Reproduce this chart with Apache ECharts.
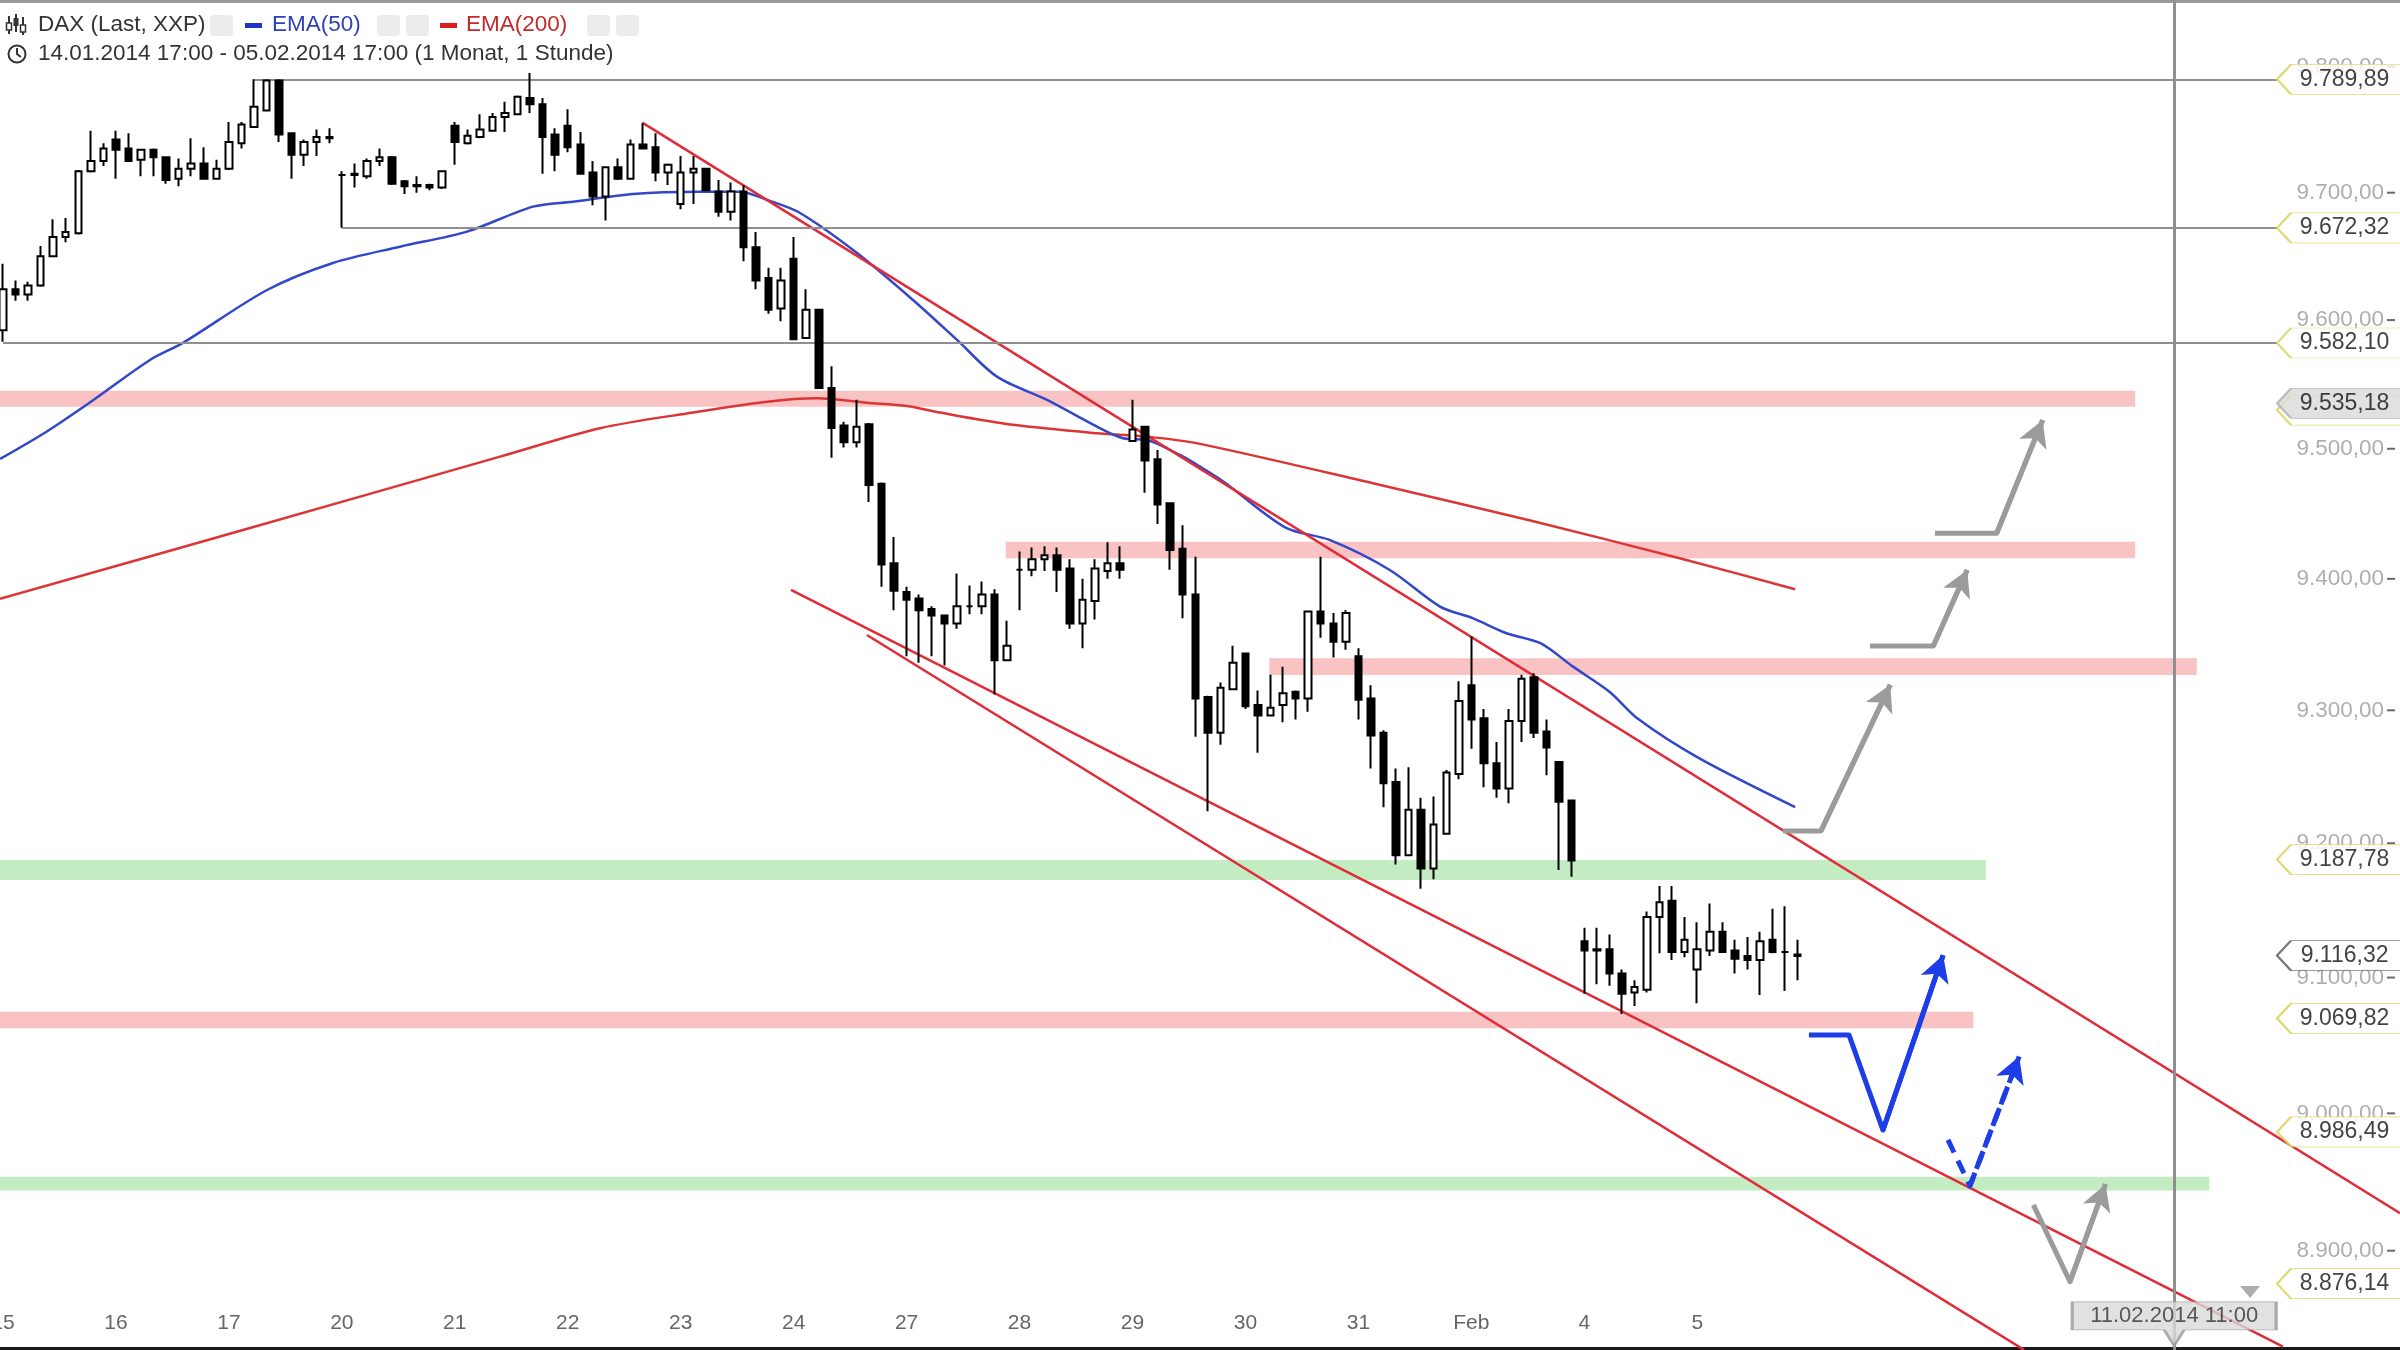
<!DOCTYPE html>
<html>
<head>
<meta charset="utf-8">
<title>DAX (Last, XXP) 1 Stunde</title>
<script src="https://cdn.jsdelivr.net/npm/echarts@6.0.0/dist/echarts.min.js"></script>
<style>
html, body { margin: 0; padding: 0; background: #fff; }
#chart { width: 2400px; height: 1350px; }
</style>
</head>
<body>
<div id="chart"></div>
<script>
// Handelstage und Stunden (Xetra 9:00 - 17:00), rechts leerer Zukunftsbereich
var dayLabels = ['15', '16', '17', '20', '21', '22', '23', '24', '27', '28', '29', '30', '31', 'Feb', '4', '5'];
var hours = [9, 10, 11, 12, 13, 14, 15, 16, 17];
var slotCount = 192;

// Stundenkerzen
var opens = [
    9592, 9624, 9620, 9627, 9650, 9665, 9668, 9717, 9725, 9742, 9735, 9726, 9734, 9728, 9711, 9719, 9723, 9711,
    9719, 9739, 9752, 9765, 9789, 9747, 9730, 9740, 9744, 9714, 9714, 9713, 9725, 9728, 9709, 9705, 9706, 9704,
    9753, 9739, 9744, 9749, 9760, 9762, 9775, 9770, 9746, 9753, 9738, 9716, 9697, 9720, 9711, 9738, 9736, 9716,
    9691, 9716, 9719, 9701, 9685, 9701, 9657, 9633, 9609, 9648, 9586, 9608, 9547, 9518, 9505, 9519, 9473, 9412,
    9390, 9385, 9377, 9372, 9366, 9379, 9379, 9388, 9338, 9407, 9407, 9415, 9418, 9408, 9366, 9383, 9406, 9412,
    9506, 9517, 9492, 9458, 9423, 9388, 9310, 9283, 9316, 9343, 9304, 9296, 9304, 9314, 9309, 9375, 9366, 9352,
    9341, 9309, 9283, 9246, 9191, 9225, 9181, 9207, 9252, 9319, 9294, 9260, 9241, 9292, 9325, 9284, 9261, 9232,
    9127, 9120, 9121, 9103, 9089, 9091, 9145, 9157, 9119, 9106, 9120, 9134, 9120, 9116, 9113, 9128, 9119, 9117
];
var closes = [
    9624, 9620, 9627, 9650, 9665, 9669, 9717, 9725, 9735, 9734, 9725, 9734, 9728, 9710, 9719, 9723, 9711, 9719,
    9740, 9754, 9768, 9789, 9746, 9730, 9740, 9744, 9743, 9714, 9715, 9725, 9728, 9707, 9705, 9706, 9704, 9717,
    9740, 9745, 9750, 9760, 9763, 9776, 9770, 9744, 9730, 9736, 9715, 9697, 9720, 9711, 9738, 9735, 9716, 9722,
    9716, 9719, 9702, 9685, 9701, 9657, 9631, 9608, 9631, 9585, 9608, 9547, 9516, 9505, 9517, 9472, 9411, 9391,
    9384, 9376, 9372, 9366, 9379, 9379, 9388, 9338, 9349, 9407, 9415, 9418, 9407, 9366, 9384, 9408, 9412, 9407,
    9515, 9491, 9457, 9422, 9388, 9309, 9283, 9317, 9336, 9303, 9296, 9302, 9313, 9309, 9375, 9366, 9352, 9374,
    9308, 9281, 9245, 9191, 9225, 9181, 9214, 9253, 9307, 9293, 9260, 9241, 9292, 9324, 9283, 9272, 9231, 9187,
    9120, 9121, 9103, 9088, 9093, 9145, 9156, 9119, 9128, 9121, 9134, 9119, 9114, 9113, 9127, 9119, 9119, 9116
];
var lows = [
    9583, 9615, 9615, 9626, 9650, 9661, 9667, 9716, 9721, 9711, 9725, 9713, 9713, 9707, 9705, 9713, 9711, 9711,
    9718, 9735, 9752, 9765, 9740, 9711, 9721, 9729, 9739, 9672.3, 9704, 9711, 9721, 9706, 9699, 9700, 9702, 9703,
    9722, 9738, 9743, 9749, 9748, 9762, 9763, 9715, 9717, 9732, 9715, 9690, 9678, 9710, 9711, 9735, 9709, 9706,
    9687, 9691, 9702, 9681, 9678, 9646, 9624, 9605, 9599, 9585, 9586, 9547, 9493, 9501, 9501, 9459, 9394, 9376,
    9341, 9336, 9341, 9334, 9362, 9373, 9373, 9312, 9338, 9376, 9402, 9406, 9390, 9362, 9347, 9369, 9400, 9400,
    9506, 9466, 9442, 9407, 9370, 9280, 9224, 9274, 9316, 9301, 9268, 9296, 9291, 9293, 9299, 9355, 9340, 9346,
    9293, 9256, 9227, 9184, 9191, 9166, 9173, 9207, 9248, 9271, 9242, 9234, 9230, 9276, 9279, 9251, 9180, 9175,
    9088, 9095, 9094, 9073, 9079, 9089, 9118, 9113, 9115, 9081, 9116, 9119, 9103, 9106, 9087, 9118, 9090, 9098
];
var highs = [
    9644, 9631, 9630, 9658, 9679, 9680, 9718, 9749, 9739, 9749, 9747, 9734, 9735, 9728, 9727, 9743, 9736, 9726,
    9756, 9756, 9790, 9790, 9790, 9747, 9742, 9750, 9751, 9717, 9723, 9727, 9735, 9729, 9710, 9713, 9707, 9717,
    9756, 9750, 9762, 9763, 9772, 9777, 9795, 9775, 9751, 9766, 9748, 9725, 9720, 9727, 9742, 9755, 9747, 9723,
    9729, 9729, 9719, 9710, 9708, 9706, 9669, 9641, 9641, 9665, 9624, 9608, 9564, 9521, 9538, 9520, 9474, 9432,
    9394, 9388, 9379, 9372, 9404, 9395, 9398, 9392, 9368, 9421, 9424, 9425, 9424, 9415, 9400, 9415, 9428, 9425,
    9538, 9517, 9499, 9458, 9441, 9417, 9311, 9321, 9349, 9343, 9315, 9327, 9333, 9315, 9375, 9417, 9374, 9376,
    9347, 9319, 9285, 9256, 9257, 9234, 9235, 9255, 9322, 9356, 9301, 9276, 9301, 9327, 9328, 9293, 9261, 9232,
    9137, 9137, 9132, 9106, 9098, 9149, 9168, 9168, 9145, 9141, 9155, 9141, 9128, 9130, 9134, 9151, 9153, 9128
];

// gleitende Durchschnitte, Stützpunkte (Kerzenindex, Kurs)
var ema50Idx = [-0.24, 3.43, 7.09, 11.71, 14.34, 21.04, 26.29, 31.63, 36.97, 42.23, 45.42, 50.2, 55.54, 58.73,
    60.88, 63.51, 68.05, 72.51, 76.02, 79.2, 83.19, 87.17, 89.24, 91.16, 93.78, 95.38, 97.29, 102.2, 105.7,
    110.5, 114.5, 117.1, 119.8, 122.5, 125.1, 128.0, 130.3, 135.1, 142.8];
var ema50 = [9492.1, 9513.0, 9537.0, 9568.9, 9582.2, 9623.5, 9644.7, 9657.5, 9669.3, 9689.0, 9692.9, 9699.0,
    9700.8, 9700.8, 9694.3, 9684.0, 9652.5, 9615.7, 9584.5, 9555.9, 9537.8, 9517.1, 9508.1, 9506.8, 9495.2,
    9486.2, 9474.4, 9439.2, 9429.8, 9406.8, 9378.8, 9370.0, 9358.5, 9350.9, 9333.1, 9314.1, 9293.4, 9264.1, 9227.1];
var ema200Idx = [-0.24, 19.68, 39.6, 47.57, 55.0, 60.88, 64.86, 68.84, 72.03, 74.66, 80.48, 87.17, 91.16,
    95.38, 109.5, 121.7, 133.9, 142.8];
var ema200 = [9384.7, 9439.0, 9493.9, 9515.9, 9528.1, 9536.5, 9539.1, 9535.7, 9533.2, 9528.0, 9518.5, 9512.0,
    9509.4, 9503.8, 9472.6, 9444.7, 9415.0, 9392.0];

// horizontale Marken und Zonen
var levelValues = [9789.89, 9672.32, 9582.10, 9535.18, 9187.78, 9069.82, 8986.49, 8876.14];
var levelFrom = [20, 27, 0, -1, -1, -1, -1, -1];
var levelEnd = 181.2;
var bandTops = [9545.0, 9428.5, 9339.4, 9187.4, 9074.8, 8953.8];
var bandBottoms = [9532.6, 9415.7, 9326.8, 9172.5, 9062.6, 8943.7];
var bandFrom = [-1, 79.9, 100.9, -1, -1, -1];
var bandTo = [169.9, 169.9, 174.8, 158.0, 157.0, 175.8];
var bandKind = ['res', 'res', 'res', 'sup', 'res', 'sup'];

// Trendkanal
var trendUpper = [[50.94, 9755.4], [191.0, 8927.2]];
var trendLowerA = [[62.79, 9391.5], [181.67, 8830.9]];
var trendLowerB = [[68.84, 9357.2], [161.04, 8828.5]];

// Szenario-Pfeile
var arrowGray1 = [[141.83, 9209.2], [144.86, 9209.2], [150.38, 9319.3]];
var arrowGray2 = [[148.76, 9348.8], [153.81, 9348.8], [156.51, 9406.8]];
var arrowGray3 = [[153.94, 9434.9], [158.86, 9434.9], [162.52, 9522.2]];
var arrowGray4 = [[161.78, 8933.3], [164.7, 8877.6], [167.53, 8948.3]];
var arrowBlue = [[143.9, 9057.6], [147.09, 9057.6], [149.8, 8987.8], [154.59, 9116.5]];
var arrowBlueDash = [[154.98, 8980.6], [156.73, 8947.1], [160.65, 9041.7]];

// Preisschilder rechts und Achsbeschriftung
var tagValues = [9789.89, 9672.32, 9582.10, 9535.18, 9187.78, 9116.32, 9069.82, 8986.49, 8876.14];
var hiddenTagValues = [9530.0];
var tickValues = [9800, 9700, 9600, 9500, 9400, 9300, 9200, 9100, 9000, 8900];
var cursorIdx = 173;
var cursorPrice = 8847.2;
var cursorLabel = '11.02.2014 11:00';
var markerIdx = 179.05;
var markerPrice = 8870.2;

var yMin = 8828.4, yMax = 9853.25;

// Zahlen im deutschen Format
function de(v) {
    var s = v.toFixed(2).split('.');
    return s[0].replace(/\B(?=(\d{3})+$)/g, '.') + ',' + s[1];
}

var chart = echarts.init(document.getElementById('chart'));

var categories = [];
dayLabels.forEach(function (d) {
    hours.forEach(function (h) { categories.push(d + '|' + h); });
});
while (categories.length < slotCount) {
    categories.push('f' + categories.length);
}

var candles = opens.map(function (o, i) {
    return [o, closes[i], lows[i], highs[i]];
});

function pairs(xs, ys) {
    return xs.map(function (x, i) { return [x, ys[i]]; });
}

var levelStyle = function (k) {
    if (k === 3) return { color: '#8a8a8a', width: 5, type: 'solid' };
    if (k === 5) return { color: '#8c8c8c', width: 2, type: [5, 5] };
    return { color: '#8f8f8f', width: 2, type: 'solid' };
};

var levelLines = levelValues.map(function (v, k) {
    return [{ coord: [levelFrom[k], v], lineStyle: levelStyle(k) }, { coord: [levelEnd, v] }];
});

var bandAreas = bandTops.map(function (t, k) {
    return [
        { coord: [bandFrom[k], t], itemStyle: { color: bandKind[k] === 'sup' ? '#c3ecc3' : '#fac3c3' } },
        { coord: [bandTo[k], bandBottoms[k]] }
    ];
});

function lineSeries(name, pts, color, width, z, smooth) {
    return {
        name: name, type: 'line', xAxisIndex: 1, data: pts, symbol: 'none', showSymbol: false,
        silent: true, z: z, smooth: smooth || false,
        lineStyle: { color: color, width: width }
    };
}

function arrowSeries(pts, color, width, dashed) {
    var n = pts.length;
    var type = dashed ? [14, 9] : 'solid';
    return {
        type: 'line', xAxisIndex: 1, data: pts, symbol: 'none', showSymbol: false, silent: true, z: 7,
        lineStyle: { color: color, width: width, type: type, join: 'round' },
        markLine: {
            silent: true, symbol: ['none', 'arrow'], symbolSize: [22, 26],
            label: { show: false },
            lineStyle: { color: color, width: width, type: type },
            data: [[{ coord: pts[n - 2] }, { coord: pts[n - 1] }]]
        }
    };
}

var tagStyle = function (v) {
    if (v === 9535.18) return { color: '#d9d9d9', borderColor: '#b0b0b0', borderWidth: 1.5 };
    if (v === 9116.32) return { color: '#ffffff', borderColor: '#555555', borderWidth: 1.5 };
    return { color: '#ffffff', borderColor: '#d8cf55', borderWidth: 1.5 };
};

var tagPath = 'path://M0,15L14,0L125,0L125,30L14,30Z';
var font = 'Arial, "Liberation Sans", sans-serif';

var header = [
    { type: 'rect', shape: { x: 0, y: 0, width: 2400, height: 3 }, style: { fill: '#9a9a9a' } },
    // Kerzen-Symbol
    { type: 'line', shape: { x1: 9, y1: 16, x2: 9, y2: 34 }, style: { stroke: '#333', lineWidth: 2 } },
    { type: 'rect', shape: { x: 6.5, y: 23, width: 5, height: 7 }, style: { fill: '#fff', stroke: '#333', lineWidth: 1.5 } },
    { type: 'line', shape: { x1: 16, y1: 14, x2: 16, y2: 32 }, style: { stroke: '#333', lineWidth: 2 } },
    { type: 'rect', shape: { x: 13.5, y: 18, width: 5, height: 8 }, style: { fill: '#333' } },
    { type: 'line', shape: { x1: 23, y1: 17, x2: 23, y2: 35 }, style: { stroke: '#333', lineWidth: 2 } },
    { type: 'rect', shape: { x: 20.5, y: 25, width: 5, height: 7 }, style: { fill: '#fff', stroke: '#333', lineWidth: 1.5 } },
    { type: 'text', x: 38, y: 25, style: { text: 'DAX (Last, XXP)', font: '22.5px ' + font, fill: '#333', verticalAlign: 'middle' } },
    { type: 'rect', shape: { x: 210, y: 15, width: 23, height: 21, r: 4 }, style: { fill: '#ececec' } },
    { type: 'rect', shape: { x: 245, y: 23, width: 17, height: 5 }, style: { fill: '#1f35c9' } },
    { type: 'text', x: 272, y: 25, style: { text: 'EMA(50)', font: '22.5px ' + font, fill: '#2f40b8', verticalAlign: 'middle' } },
    { type: 'rect', shape: { x: 377, y: 15, width: 23, height: 21, r: 4 }, style: { fill: '#ececec' } },
    { type: 'rect', shape: { x: 406, y: 15, width: 23, height: 21, r: 4 }, style: { fill: '#ececec' } },
    { type: 'rect', shape: { x: 440, y: 23, width: 17, height: 5 }, style: { fill: '#d81e1e' } },
    { type: 'text', x: 466, y: 25, style: { text: 'EMA(200)', font: '22.5px ' + font, fill: '#c42a2a', verticalAlign: 'middle' } },
    { type: 'rect', shape: { x: 587, y: 15, width: 23, height: 21, r: 4 }, style: { fill: '#ececec' } },
    { type: 'rect', shape: { x: 616, y: 15, width: 23, height: 21, r: 4 }, style: { fill: '#ececec' } },
    // Uhr
    { type: 'circle', shape: { cx: 17, cy: 54, r: 8.5 }, style: { fill: 'none', stroke: '#333', lineWidth: 2 } },
    { type: 'polyline', shape: { points: [[17, 48], [17, 54], [21, 57]] }, style: { fill: 'none', stroke: '#333', lineWidth: 2 } },
    { type: 'text', x: 38, y: 54, style: { text: '14.01.2014 17:00 - 05.02.2014 17:00 (1 Monat, 1 Stunde)', font: '22.5px ' + font, fill: '#333', verticalAlign: 'middle' } }
];

var option = {
    animation: false,
    backgroundColor: '#ffffff',
    textStyle: { fontFamily: font },
    graphic: header,
    grid: { left: -3.275, top: 0, width: 2409.6, height: 1350, containLabel: false, outerBoundsMode: 'none' },
    xAxis: [{
        type: 'category',
        data: categories,
        boundaryGap: true,
        axisLine: { onZero: false, lineStyle: { color: '#1a1a1a', width: 6 } },
        axisTick: {
            inside: true, length: 9, alignWithLabel: true,
            interval: function (i, v) { return v.split('|')[1] === '9'; },
            lineStyle: { color: '#333', width: 2 }
        },
        axisLabel: {
            inside: true, margin: 16, interval: 0, color: '#666', fontSize: 21,
            formatter: function (v) {
                var p = v.split('|');
                return p.length === 2 && p[1] === '9' ? p[0] : '';
            }
        },
        splitLine: { show: false }
    }, {
        type: 'value', min: -0.5, max: slotCount - 0.5, show: false, splitLine: { show: false }
    }],
    yAxis: {
        type: 'log', logBase: 10, min: yMin, max: yMax, show: false,
        splitLine: { show: false }
    },
    series: [
        {
            name: 'zones', type: 'line', xAxisIndex: 1, data: [[-5, 9500]], symbol: 'none', silent: true, z: 1,
            lineStyle: { width: 0 },
            markArea: { silent: true, label: { show: false }, data: bandAreas }
        },
        {
            name: 'levels', type: 'line', xAxisIndex: 1, data: [[-5, 9500]], symbol: 'none', silent: true, z: 3,
            lineStyle: { width: 0 },
            markLine: {
                silent: true, symbol: ['none', 'none'], label: { show: false },
                data: levelLines.concat([{ xAxis: cursorIdx, lineStyle: { color: '#8f8f8f', width: 3, type: 'solid' } }])
            }
        },
        lineSeries('EMA(200)', pairs(ema200Idx, ema200), '#dc3535', 2.5, 4, 0.3),
        lineSeries('EMA(50)', pairs(ema50Idx, ema50), '#3347c9', 2.5, 4, 0.3),
        lineSeries('Trend oben', trendUpper, '#e02c38', 2.5, 4),
        lineSeries('Trend unten A', trendLowerA, '#e02c38', 2.5, 4),
        lineSeries('Trend unten B', trendLowerB, '#e02c38', 2.5, 4),
        {
            name: 'DAX', type: 'candlestick', xAxisIndex: 0, data: candles, barWidth: 7, z: 5, silent: true,
            itemStyle: {
                color: '#ffffff', color0: '#000000',
                borderColor: '#000000', borderColor0: '#000000', borderColorDoji: '#000000',
                borderWidth: 2
            }
        },
        arrowSeries(arrowGray1, '#9b9b9b', 5, false),
        arrowSeries(arrowGray2, '#9b9b9b', 5, false),
        arrowSeries(arrowGray3, '#9b9b9b', 5, false),
        arrowSeries(arrowGray4, '#9b9b9b', 5, false),
        arrowSeries(arrowBlue, '#1c3de8', 5, false),
        arrowSeries(arrowBlueDash, '#1c3de8', 5, true),
        {
            name: 'ticks', type: 'scatter', xAxisIndex: 1, silent: true, z: 6,
            symbol: 'rect', symbolSize: [8, 2], itemStyle: { color: '#444' },
            data: tickValues.map(function (v) { return [190.28, v]; }),
            label: {
                show: true, position: 'left', distance: 3, color: '#9a9a9a', fontSize: 22.5,
                formatter: function (p) { return de(p.value[1]); }
            }
        },
        {
            name: 'hidden tags', type: 'scatter', xAxisIndex: 1, silent: true, z: 7,
            symbol: tagPath, symbolSize: [125, 30],
            itemStyle: { color: '#ffffff', borderColor: '#d8cf55', borderWidth: 1.5 },
            data: hiddenTagValues.map(function (v) { return [186.18, v]; })
        },
        {
            name: 'tags', type: 'scatter', xAxisIndex: 1, silent: true, z: 8,
            symbol: tagPath, symbolSize: [125, 30],
            data: tagValues.map(function (v) { return { value: [186.18, v], itemStyle: tagStyle(v) }; }),
            label: {
                show: true, position: 'inside', offset: [5, 0], color: '#111', fontSize: 23,
                formatter: function (p) { return de(p.value[1]); }
            }
        },
        {
            name: 'cursor', type: 'scatter', xAxisIndex: 1, silent: true, z: 9,
            symbol: 'path://M0,0L204,0L204,28L112,28L102,44L92,28L0,28Z', symbolSize: [204, 44],
            itemStyle: { color: '#d9d9d9', borderColor: '#9a9a9a', borderWidth: 1.5 },
            data: [[cursorIdx, cursorPrice]],
            label: {
                show: true, position: 'inside', offset: [0, -8], color: '#333', fontSize: 22,
                formatter: function () { return cursorLabel; }
            }
        },
        {
            name: 'marker', type: 'scatter', xAxisIndex: 1, silent: true, z: 9,
            symbol: 'triangle', symbolRotate: 180, symbolSize: [20, 12],
            itemStyle: { color: '#9a9a9a' },
            data: [[markerIdx, markerPrice]]
        }
    ]
};

chart.setOption(option);
</script>
</body>
</html>
